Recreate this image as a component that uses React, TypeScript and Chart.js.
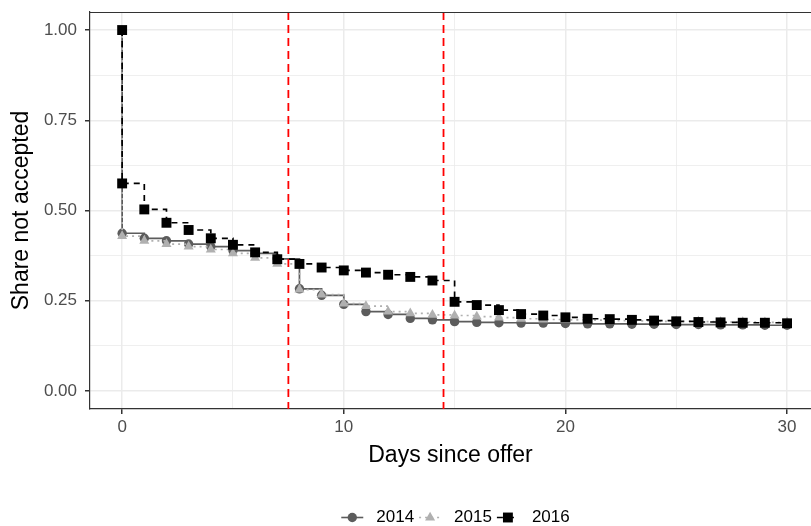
import React, { useEffect, useRef } from 'react';
import { Chart, registerables } from 'chart.js';

Chart.register(...registerables);

// ---------- data ----------
const days = [0, 1, 2, 3, 4, 5, 6, 7, 8, 9, 10, 11, 12, 13, 14, 15, 16, 17, 18, 19, 20, 21, 22, 23, 24, 25, 26, 27, 28, 29, 30];
const startShare = 1.0;
const share2014 = [0.437, 0.423, 0.416, 0.407, 0.4, 0.389, 0.381, 0.366, 0.283, 0.265, 0.24, 0.22, 0.212, 0.201, 0.197, 0.192, 0.19, 0.189, 0.188, 0.188, 0.187, 0.186, 0.186, 0.185, 0.185, 0.184, 0.184, 0.183, 0.183, 0.182, 0.182];
const share2015 = [0.429, 0.416, 0.407, 0.4, 0.392, 0.381, 0.369, 0.352, 0.281, 0.267, 0.242, 0.235, 0.22, 0.215, 0.211, 0.209, 0.206, 0.203, 0.2, 0.198, 0.197, 0.196, 0.195, 0.194, 0.193, 0.193, 0.192, 0.191, 0.191, 0.19, 0.19];
const share2016 = [0.575, 0.503, 0.466, 0.446, 0.423, 0.405, 0.384, 0.365, 0.352, 0.342, 0.334, 0.328, 0.322, 0.316, 0.306, 0.247, 0.238, 0.224, 0.213, 0.209, 0.204, 0.2, 0.199, 0.197, 0.195, 0.193, 0.191, 0.19, 0.189, 0.189, 0.1875];
const seriesLabels = ['2014', '2015', '2016'];
const cutoffDays = [7.5, 14.5];
const yGridValues = [0, 0.125, 0.25, 0.375, 0.5, 0.625, 0.75, 0.875, 1];
const yLabelValues = [0, 0.25, 0.5, 0.75, 1];
const xGridValues = [0, 5, 10, 15, 20, 25, 30];
const xLabelValues = [0, 10, 20, 30];
const xTitle = 'Days since offer';
const yTitle = 'Share not accepted';

// ---------- styles ----------
const FONT = "'Liberation Sans', Arial, sans-serif";
const seriesStyles = [
  { color: '#5c5c5c', dash: [] as number[], point: 'circle', radius: 4.7 },
  { color: '#b0b0b0', dash: [2, 4], point: 'triangle', radius: 5.8 },
  { color: '#000000', dash: [6, 5], point: 'rect', radius: 7 },
];

const toPoints = (vals: number[]) => [
  { x: days[0], y: startShare },
  ...days.map((d, i) => ({ x: d, y: vals[i] })),
];

function drawMarker(ctx: CanvasRenderingContext2D, style: string, x: number, y: number, r: number, color: string) {
  ctx.save();
  ctx.fillStyle = color;
  ctx.beginPath();
  if (style === 'circle') {
    ctx.arc(x, y, r, 0, Math.PI * 2);
  } else if (style === 'triangle') {
    let rad = 0;
    ctx.moveTo(x + Math.sin(rad) * r, y - Math.cos(rad) * r);
    rad += (Math.PI * 2) / 3;
    ctx.lineTo(x + Math.sin(rad) * r, y - Math.cos(rad) * r);
    rad += (Math.PI * 2) / 3;
    ctx.lineTo(x + Math.sin(rad) * r, y - Math.cos(rad) * r);
    ctx.closePath();
  } else {
    const s = Math.SQRT1_2 * r;
    ctx.rect(x - s, y - s, 2 * s, 2 * s);
  }
  ctx.fill();
  ctx.restore();
}

const zeroPadding = (s: any) => {
  s.paddingTop = 0;
  s.paddingBottom = 0;
  s.paddingLeft = 0;
  s.paddingRight = 0;
};

const decorPlugin = {
  id: 'decor',
  afterDatasetsDraw(chart: any) {
    const { ctx, chartArea, scales } = chart;
    ctx.save();
    ctx.beginPath();
    ctx.rect(chartArea.left, chartArea.top, chartArea.right - chartArea.left, chartArea.bottom - chartArea.top);
    ctx.clip();
    ctx.strokeStyle = '#ff0000';
    ctx.lineWidth = 1.8;
    ctx.setLineDash([8, 5]);
    cutoffDays.forEach((d) => {
      const x = scales.x.getPixelForValue(d);
      ctx.beginPath();
      ctx.moveTo(x, chartArea.top);
      ctx.lineTo(x, chartArea.bottom);
      ctx.stroke();
    });
    ctx.restore();
  },
  afterDraw(chart: any) {
    const { ctx, chartArea } = chart;
    // panel top border
    ctx.save();
    ctx.strokeStyle = '#333333';
    ctx.lineWidth = 1.2;
    ctx.beginPath();
    ctx.moveTo(chartArea.left, chartArea.top + 0.5);
    ctx.lineTo(chartArea.right, chartArea.top + 0.5);
    ctx.stroke();
    ctx.restore();

    // legend
    ctx.save();
    ctx.font = `17px ${FONT}`;
    ctx.textBaseline = 'middle';
    ctx.textAlign = 'left';
    const keyW = 22;
    const gapKeyText = 13;
    const gapItems = 5;
    const widths = seriesLabels.map((l) => ctx.measureText(l).width);
    const total = widths.reduce((a, b) => a + b, 0) + seriesLabels.length * (keyW + gapKeyText) + (seriesLabels.length - 1) * gapItems;
    const centerX = 455.5;
    const cy = 517.5;
    let x = centerX - total / 2;
    seriesLabels.forEach((label, i) => {
      const st = seriesStyles[i];
      ctx.save();
      ctx.strokeStyle = st.color;
      ctx.lineWidth = 1.6;
      ctx.setLineDash(st.dash);
      ctx.beginPath();
      ctx.moveTo(x, cy);
      ctx.lineTo(x + keyW, cy);
      ctx.stroke();
      ctx.restore();
      drawMarker(ctx, st.point, x + keyW / 2, cy, st.radius, st.color);
      x += keyW + gapKeyText;
      ctx.fillStyle = '#000000';
      ctx.fillText(label, x, cy);
      x += widths[i] + gapItems;
    });
    ctx.restore();
  },
};

export default function App() {
  const canvasRef = useRef<HTMLCanvasElement | null>(null);

  useEffect(() => {
    document.body.style.margin = '0';
    const canvas = canvasRef.current;
    if (!canvas) return;
    Chart.defaults.font.family = FONT;

    const allSeries = [share2014, share2015, share2016];
    const datasets = allSeries.map((vals, i) => {
      const st = seriesStyles[i];
      return {
        label: seriesLabels[i],
        data: toPoints(vals),
        stepped: true,
        fill: false,
        borderColor: st.color,
        borderWidth: 1.7,
        borderDash: st.dash,
        pointStyle: st.point,
        pointRadius: (c: any) => (i < 2 && c.dataIndex === 0 ? 0 : st.radius),
        pointBackgroundColor: st.color,
        pointBorderColor: st.color,
        pointBorderWidth: 0,
        order: 3 - i,
      };
    });

    const chart = new Chart(canvas, {
      type: 'line',
      data: { datasets } as any,
      plugins: [decorPlugin],
      options: {
        animation: false,
        responsive: false,
        devicePixelRatio: 1,
        layout: { autoPadding: false, padding: { top: 12, right: 0, left: 0, bottom: 57 } },
        plugins: { legend: { display: false }, tooltip: { enabled: false } },
        scales: {
          x: {
            type: 'linear',
            min: -1.45,
            max: 31.08,
            afterBuildTicks: (s: any) => {
              s.ticks = xGridValues.map((v) => ({ value: v }));
            },
            afterFit: (s: any) => {
              s.height = 60;
              zeroPadding(s);
            },
            grid: {
              color: '#ebebeb',
              lineWidth: (c: any) => (xLabelValues.includes(c.tick?.value) ? 1.5 : 0.8),
              tickColor: (c: any) => (xLabelValues.includes(c.tick?.value) ? '#333333' : 'rgba(0,0,0,0)'),
              tickLength: 5,
              drawTicks: true,
            },
            border: { display: true, color: '#333333', width: 1.2 },
            ticks: {
              autoSkip: false,
              maxRotation: 0,
              padding: 3,
              color: '#4d4d4d',
              font: { size: 17, family: FONT },
              callback: (v: any) => (xLabelValues.includes(Number(v)) ? String(v) : ''),
            },
            title: {
              display: true,
              text: xTitle,
              color: '#000000',
              font: { size: 23, family: FONT },
              padding: { top: 0, bottom: 0 },
            },
          },
          y: {
            type: 'linear',
            min: -0.05,
            max: 1.05,
            afterBuildTicks: (s: any) => {
              s.ticks = yGridValues.map((v) => ({ value: v }));
            },
            afterFit: (s: any) => {
              s.width = 90;
              zeroPadding(s);
            },
            grid: {
              color: '#ebebeb',
              lineWidth: (c: any) => (yLabelValues.includes(c.tick?.value) ? 1.5 : 0.8),
              tickColor: (c: any) => (yLabelValues.includes(c.tick?.value) ? '#333333' : 'rgba(0,0,0,0)'),
              tickLength: 5,
              drawTicks: true,
            },
            border: { display: true, color: '#333333', width: 1.2 },
            ticks: {
              autoSkip: false,
              padding: 8,
              color: '#4d4d4d',
              font: { size: 17, family: FONT },
              callback: (v: any) => (yLabelValues.includes(Number(v)) ? Number(v).toFixed(2) : ''),
            },
            title: {
              display: true,
              text: yTitle,
              color: '#000000',
              font: { size: 23, family: FONT },
              padding: { top: 8, bottom: 0 },
            },
          },
        },
      } as any,
    });

    return () => {
      chart.destroy();
    };
  }, []);

  return (
    <div style={{ width: 811, height: 526, background: '#ffffff' }}>
      <canvas ref={canvasRef} width={811} height={526} style={{ display: 'block' }} />
    </div>
  );
}
